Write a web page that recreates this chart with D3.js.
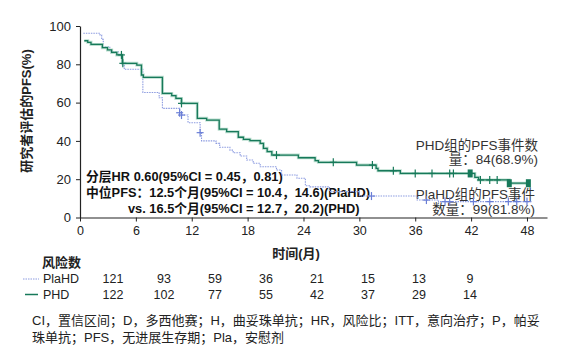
<!DOCTYPE html>
<html><head><meta charset="utf-8">
<script src="https://cdn.jsdelivr.net/npm/d3@7"></script>
<style>
html,body{margin:0;padding:0;background:#fff;}
svg{display:block;font-family:"Liberation Sans","Noto Sans CJK SC",sans-serif;}
</style></head>
<body>
<svg id="c" width="567" height="357"></svg>
<script>
// ---- data ----
const xTicks = [0, 6, 12, 18, 24, 30, 36, 42, 48];
const yTicks = [0, 20, 40, 60, 80, 100];

const phdTime = [0.46,0.83,1.18,2.4,2.95,3.4,3.95,4.55,6.1,6.6,6.8,8.85,9.85,10.3,10.9,12.6,13.6,14.95,15.75,17.0,17.55,18.25,19.35,19.7,20.1,20.6,23.45,25.25,25.6,29.7,31.8,32.0,34.4,42.4,42.8,46.1,48.15];
const phdSurv = [92.3,91.5,90.4,88.7,87.5,86.2,84.9,80.5,79.6,74.4,73.2,64.8,63.6,62.2,59.6,51.8,50.9,46.1,44.8,41.9,40.8,40.1,38.7,36.1,34.4,32.6,31.2,29.7,28.8,27.4,25.7,24.4,23.0,21.0,19.6,17.9,17.9];
const phdCensor = [4.45,4.6,10.9,21.1,27.2,31.4,33.65,36.0,37.8,39.7,40.1,43.0,44.0,44.8];
const phdCluster = [41.9,46.1,48.15];

const plaTime = [0.36,2.15,2.33,2.5,3.2,4.1,4.55,4.75,6.75,8.5,8.85,10.7,10.9,11.6,12.9,13.05,14.6,15.0,16.1,16.45,17.2,17.9,18.6,19.35,21.1,21.65,23.3,24.2,24.7,26.8,30.0,36.2,38.5,48.5];
const plaSurv = [96.2,95.3,93.0,89.2,86.6,84.9,79.6,77.4,65.3,62.5,57.0,54.7,53.5,49.5,44.3,40.0,38.7,36.7,35.2,33.8,32.1,30.0,28.3,26.5,24.8,22.2,20.5,16.6,16.0,13.5,11.2,9.1,8.3,8.3];
const plaCensor = [10.7,10.9,12.9,31.3,37.2,39.2,39.7,42.25,44.0,46.0,46.9,48.0];

const riskGroups = ["PlaHD", "PHD"];
const riskPla = [121, 93, 59, 36, 21, 15, 13, 9];
const riskPhd = [122, 102, 77, 55, 42, 37, 29, 14];

const yLabel = "研究者评估的PFS(%)";
const xLabel = "时间(月)";
const annoLeft = ["分层HR 0.60(95%CI = 0.45，0.81)", "中位PFS：12.5个月(95%CI = 10.4，14.6)(PlaHD)", "vs. 16.5个月(95%CI = 12.7，20.2)(PHD)"];
const annoPhd = ["PHD组的PFS事件数", "量：84(68.9%)"];
const annoPla = ["PlaHD组的PFS事件", "数量：99(81.8%)"];
const footnote = ["CI，置信区间；D，多西他赛；H，曲妥珠单抗；HR，风险比；ITT，意向治疗；P，帕妥", "珠单抗；PFS，无进展生存期；Pla，安慰剂"];

// ---- drawing ----
const svg = d3.select("#c");
const GREEN = "#17795a", GREEN_HALO = "#a9d6c3", BLUE = "#8c9be0", BLUE_C = "#6a7ed6";
const x = d3.scaleLinear().domain([0, 50.15]).range([80, 547]);
const y = d3.scaleLinear().domain([0, 100]).range([217.5, 26]);

// axes
const xAxis = svg.append("g").attr("transform", `translate(0,${y(0)})`)
  .call(d3.axisBottom(x).tickValues(xTicks).tickSize(4).tickSizeOuter(0).tickPadding(5));
const yAxis = svg.append("g").attr("transform", `translate(${x(0)},0)`)
  .call(d3.axisLeft(y).tickValues(yTicks).tickSize(4).tickSizeOuter(0).tickPadding(5));
[xAxis, yAxis].forEach(g => {
  g.select(".domain").attr("stroke", "#222").attr("stroke-width", 1.2);
  g.selectAll(".tick line").attr("stroke", "#222");
  g.selectAll("text").attr("fill", "#222").style("font-size", "12.5px")
    .style("font-family", '"Liberation Sans",sans-serif');
});
yAxis.selectAll("text").style("font-size", "13px");

// y label
svg.append("text").attr("transform", `translate(31,${111}) rotate(-90)`)
  .attr("text-anchor", "middle").attr("font-weight", "bold").attr("font-size", 13)
  .attr("fill", "#222").text(yLabel);
// x label
svg.append("text").attr("x", 296).attr("y", 258).attr("text-anchor", "middle")
  .attr("font-weight", "bold").attr("font-size", 13).attr("fill", "#222").text(xLabel);

// annotations (drawn before curves)
const aL = svg.append("g").attr("font-weight", "bold").attr("font-size", 12.8).attr("fill", "#111");
aL.append("text").attr("x", 86).attr("y", 181).text(annoLeft[0]);
aL.append("text").attr("x", 86).attr("y", 197).text(annoLeft[1]);
aL.append("text").attr("x", 128).attr("y", 213).text(annoLeft[2]);

const aR = svg.append("g").attr("font-size", 13.5).attr("fill", "#333").attr("text-anchor", "end");
aR.append("text").attr("x", 538).attr("y", 150).text(annoPhd[0]);
aR.append("text").attr("x", 538).attr("y", 164).text(annoPhd[1]);
aR.append("text").attr("x", 535).attr("y", 199).text(annoPla[0]);
aR.append("text").attr("x", 535).attr("y", 214).text(annoPla[1]);

// curves
const line = d3.line().x(d => x(d[0])).y(d => y(d[1])).curve(d3.curveStepAfter);
const phd = phdTime.map((t, i) => [t, phdSurv[i]]);
const pla = plaTime.map((t, i) => [t, plaSurv[i]]);
const stepVal = (times, surv, t) => { let v = surv[0]; times.forEach((tt, i) => { if (tt <= t) v = surv[i]; }); return v; };

svg.append("path").datum(pla).attr("d", line).attr("fill", "none")
  .attr("stroke", BLUE).attr("stroke-width", 1.1).attr("stroke-dasharray", "1.5,1");
svg.append("path").datum(phd).attr("d", line).attr("fill", "none")
  .attr("stroke", GREEN_HALO).attr("stroke-width", 3).attr("opacity", 0.8);
svg.append("path").datum(phd).attr("d", line).attr("fill", "none")
  .attr("stroke", GREEN).attr("stroke-width", 1.3);

// censor marks
function plus(g, t, v, color) {
  const cx = x(t), cy = y(v);
  g.append("line").attr("x1", cx - 3.5).attr("x2", cx + 3.5).attr("y1", cy).attr("y2", cy).attr("stroke", color).attr("stroke-width", 1.2);
  g.append("line").attr("x1", cx).attr("x2", cx).attr("y1", cy - 4).attr("y2", cy + 4).attr("stroke", color).attr("stroke-width", 1.2);
}
const cg = svg.append("g");
plaCensor.forEach(t => plus(cg, t, stepVal(plaTime, plaSurv, t), BLUE_C));
phdCensor.forEach(t => plus(cg, t, stepVal(phdTime, phdSurv, t), GREEN));
phdCluster.forEach(t => {
  cg.append("rect").attr("x", x(t) - 2.5).attr("y", y(stepVal(phdTime, phdSurv, t)) - 4)
    .attr("width", 5).attr("height", 8).attr("fill", GREEN);
});

// risk table
const rt = svg.append("g").attr("fill", "#222");
rt.append("text").attr("x", 42).attr("y", 267).attr("font-weight", "bold").attr("font-size", 13).text("风险数");
const col = d3.scalePoint().domain(d3.range(riskPla.length)).range([113, 470]);
const rows = [riskPla, riskPhd];
const rowY = [283, 299];
riskGroups.forEach((g, i) => {
  rt.append("text").attr("x", 43).attr("y", rowY[i]).attr("font-size", 12.5).text(g);
  rt.selectAll(null).data(rows[i]).enter().append("text")
    .attr("x", (d, j) => col(j)).attr("y", rowY[i]).attr("text-anchor", "middle")
    .attr("font-size", 12.5).text(d => d);
});
svg.append("line").attr("x1", 23).attr("x2", 39).attr("y1", 279).attr("y2", 279)
  .attr("stroke", BLUE).attr("stroke-width", 1).attr("stroke-dasharray", "1.5,1");
svg.append("line").attr("x1", 25).attr("x2", 38).attr("y1", 294.5).attr("y2", 294.5)
  .attr("stroke", GREEN).attr("stroke-width", 1.5);

// footnote
const fn = svg.append("g").attr("font-size", 13).attr("fill", "#222");
fn.append("text").attr("x", 32).attr("y", 325).text(footnote[0]);
fn.append("text").attr("x", 32).attr("y", 342).text(footnote[1]);
</script>
</body></html>
